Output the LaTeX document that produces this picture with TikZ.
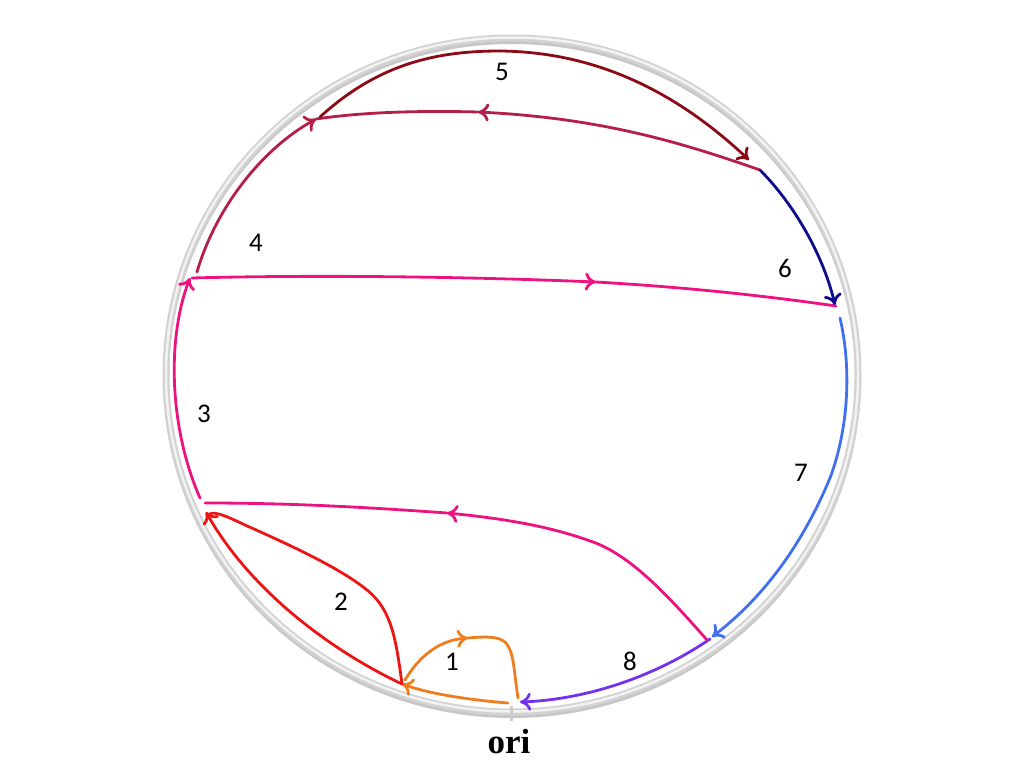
\documentclass[tikz,border=0pt]{standalone}
\usepackage{fontspec}
\setmainfont{Carlito}
\newfontfamily\orifont{Liberation Serif}
\usetikzlibrary{arrows.meta}
\definecolor{corange}{RGB}{238,125,30}
\definecolor{cred}{RGB}{236,20,20}
\definecolor{cpink}{RGB}{238,18,128}
\definecolor{ccrimson}{RGB}{180,30,72}
\definecolor{cdarkred}{RGB}{138,10,22}
\definecolor{cnavy}{RGB}{12,12,140}
\definecolor{cblue}{RGB}{64,112,240}
\definecolor{cpurple}{RGB}{115,50,240}
\begin{document}
\begin{tikzpicture}[x=1pt,y=-1pt,
  seg/.style={line width=2.8pt,line cap=round},
  arr/.style={seg,-{To[length=11pt,width=18pt]}},
  num/.style={font=\fontsize{27}{31}\selectfont,text=black,inner sep=0pt}]
\useasboundingbox (0,0) rectangle (1024,768);
% ring
\draw[gray!45,line width=6pt] (512,378) ellipse [x radius=346, y radius=337];
\draw[gray!35,line width=7pt] (512,375) ellipse [x radius=346, y radius=337];
\draw[gray!10,line width=2.5pt] (512,374.5) ellipse [x radius=346, y radius=337];
% key points
\coordinate (O) at (512,702);
\coordinate (A) at (402,684);
\coordinate (B) at (206,512);
\coordinate (C) at (200,498);
\coordinate (D) at (190,278);
\coordinate (E) at (836,306);
\coordinate (F) at (316,119);
\coordinate (G) at (760,170);
\coordinate (H) at (840,318);
\coordinate (K) at (710,639);
\coordinate (L) at (205,503);
% mid arrow points
\coordinate (m1) at (468,638);
\coordinate (m3) at (447,513);
\coordinate (m4) at (596,282);
\coordinate (m5) at (478,112);
\coordinate (m6) at (500,51);
% ori tick and label
\node[font=\orifont\bfseries\fontsize{35}{40}\selectfont,inner sep=0pt] (ori) at (509,742) {ori};
\draw[gray!40,line width=3pt] (511,706) -- (511,721);
% 1 orange
\draw[arr,corange] (508,703) .. controls (470,700) and (430,694) .. (A);
\draw[arr,corange] (405,680) .. controls (420,655) and (440,640) .. (m1);
\draw[seg,corange] (m1) .. controls (490,636) and (500,637) .. (506,643) .. controls (514,652) and (514,672) .. (518,698);
% 2 red
\draw[arr,cred] (A) .. controls (330,650) and (250,590) .. (B);
\draw[seg,cred] (A) .. controls (396,640) and (392,610) .. (367,590) .. controls (340,568) and (290,545) .. (245,525) .. controls (222,514) and (212,510) .. (207,516);
% 8 purple
\draw[arr,cpurple] (K) .. controls (650,680) and (580,700) .. (520,702);
% 7 blue
\draw[arr,cblue] (H) .. controls (852,370) and (848,430) .. (830,478) .. controls (800,550) and (760,600) .. (712,637);
% pink lower
\draw[arr,cpink] (707,640) .. controls (670,598) and (632,556) .. (593,542) .. controls (560,530) and (520,520) .. (m3);
\draw[seg,cpink] (m3) .. controls (350,506) and (280,503) .. (L);
% 3 pink
\draw[arr,cpink] (C) .. controls (170,430) and (166,340) .. (D);
% 4 pink horizontal
\draw[arr,cpink] (192,278) .. controls (300,275) and (450,276) .. (m4);
\draw[seg,cpink] (m4) .. controls (700,288) and (780,298) .. (E);
% crimson arc
\draw[arr,ccrimson] (197,272) .. controls (215,210) and (260,150) .. (F);
% crimson top
\draw[arr,ccrimson] (G) .. controls (680,142) and (600,118) .. (m5);
\draw[seg,ccrimson] (m5) .. controls (400,110) and (350,114) .. (F);
% 5 dark red
\draw[seg,cdarkred] (320,117) .. controls (380,62) and (440,51) .. (m6);
\draw[arr,cdarkred] (m6) .. controls (600,52) and (680,95) .. (749,160);
% 6 navy
\draw[arr,cnavy] (G) .. controls (790,200) and (822,250) .. (835,305);
% labels
\node[num] (n1) at (452,662) {1};
\node[num] (n2) at (341,602) {2};
\node[num] (n3) at (204,414) {3};
\node[num] (n4) at (256,243) {4};
\node[num] (n5) at (502,72) {5};
\node[num] (n6) at (785,268) {6};
\node[num] (n7) at (801,473) {7};
\node[num] (n8) at (630,661) {8};
\end{tikzpicture}
\end{document}
